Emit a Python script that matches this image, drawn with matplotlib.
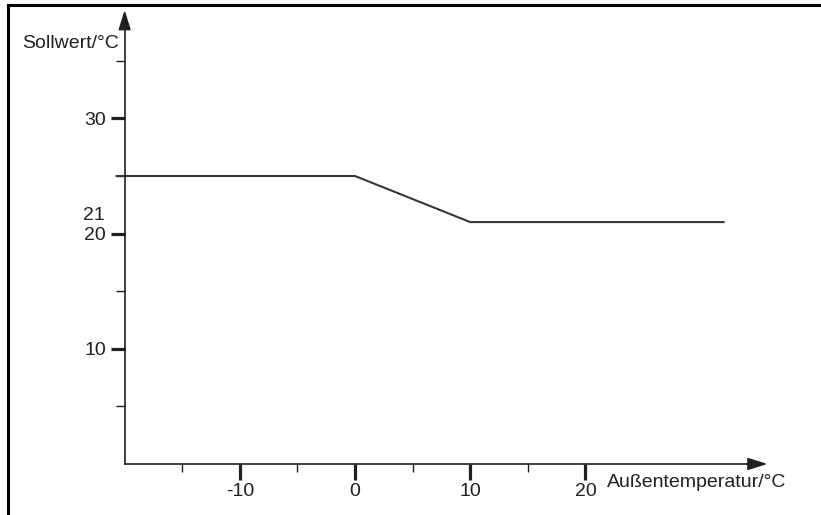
# Heizkennlinie: Sollwert über Außentemperatur

import matplotlib.pyplot as plt
from matplotlib.lines import Line2D

plt.rcParams['font.family'] = ['Liberation Sans', 'DejaVu Sans']

# Kennlinie
outside_temp = [-20.7, 0, 10, 32]
setpoint = [25, 25, 21, 21]

# Achsen
x_major = [-10, 0, 10, 20]
x_minor = [-15, -5, 5, 15]
y_major = [10, 20, 30]
y_minor = [5, 15, 25, 35]
y_extra_label = 21

ink = '#231f20'
fs = 14

fig = plt.figure(figsize=(8.21, 5.15), dpi=100)
ax = fig.add_axes([0, 0, 1, 1])
ax.set_xlim(-30.82, 40.45)
ax.set_ylim(-4.43, 40.28)
ax.patch.set_visible(False)

# axis lines through the origin of the diagram
ax.spines['left'].set_position(('data', -20))
ax.spines['bottom'].set_position(('data', 0))
ax.spines['top'].set_visible(False)
ax.spines['right'].set_visible(False)
ax.spines['left'].set_bounds(0, 38.5)
ax.spines['bottom'].set_bounds(-20, 35)
for side in ('left', 'bottom'):
    ax.spines[side].set_color(ink)
    ax.spines[side].set_linewidth(1.2)

ax.set_xticks(x_major)
ax.set_xticks(x_minor, minor=True)
ax.set_yticks(y_major)
ax.set_yticks(y_minor, minor=True)
ax.set_xticklabels([str(v) for v in x_major])
ax.set_yticklabels([str(v) for v in y_major])
ax.tick_params(which='major', direction='out', color=ink, labelsize=fs,
               labelcolor=ink, width=2.3)
ax.tick_params(axis='x', which='major', length=11.5, pad=2.5)
ax.tick_params(axis='y', which='major', length=10, pad=3.5)
ax.tick_params(which='minor', direction='out', color=ink, width=1.0)
ax.tick_params(axis='x', which='minor', length=6)
ax.tick_params(axis='y', which='minor', length=6.5)

# arrow heads
head = '-|>,head_length=1.2,head_width=0.38'
ax.annotate('', xy=(35.8, 0), xytext=(34, 0),
            arrowprops=dict(arrowstyle=head, color=ink, lw=1.2, shrinkA=0, shrinkB=0))
ax.annotate('', xy=(-20, 39.4), xytext=(-20, 37.8),
            arrowprops=dict(arrowstyle=head, color=ink, lw=1.2, shrinkA=0, shrinkB=0))

# curve
ax.plot(outside_temp, setpoint, color='#3a3536', lw=1.5, solid_joinstyle='miter')

# labels
ax.text(-21.7, 21.55, str(y_extra_label), ha='right', va='center', fontsize=fs, color=ink)
ax.text(-20.5, 36.5, 'Sollwert/°C', ha='right', va='center', fontsize=fs, color=ink)
ax.text(21.9, -1.65, 'Außentemperatur/°C', ha='left', va='center', fontsize=fs, color=ink)

# frame of the original figure (top and left edge)
fig.add_artist(Line2D([8 / 821, 1], [1 - 5 / 515, 1 - 5 / 515], color='black', lw=2.2))
fig.add_artist(Line2D([8 / 821, 8 / 821], [0, 1 - 5 / 515], color='black', lw=2.2))

fig.savefig('out.png', dpi=100)
